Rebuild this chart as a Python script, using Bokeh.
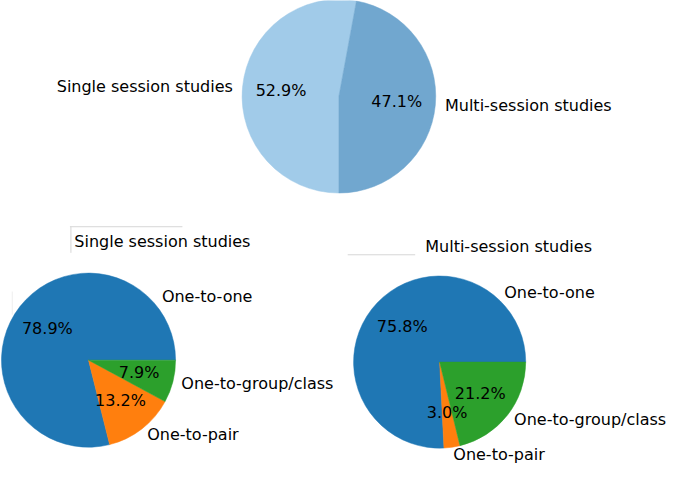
import math
from bokeh.plotting import figure
from bokeh.models import ColumnDataSource, Range1d
from bokeh.core.properties import value
from bokeh.embed import file_html
from bokeh.resources import INLINE

# ---- data ----
overview_labels = ["Single session studies", "Multi-session studies"]
overview_pct = [52.9, 47.1]
overview_colors = ["#a1cbe9", "#71a7cf"]

mode_labels = ["One-to-one", "One-to-pair", "One-to-group/class"]
single_pct = [78.9, 13.2, 7.9]
multi_pct = [75.8, 3.0, 21.2]
mode_colors = ["#1f77b4", "#ff7f0e", "#2ca02c"]

single_title = "Single session studies"
multi_title = "Multi-session studies"

FONT = "DejaVu Sans"
FS = "16px"

p = figure(width=669, height=466, output_backend="svg", toolbar_location=None,
           x_range=Range1d(3, 687), y_range=Range1d(-2, 480))
p.axis.visible = False
p.grid.visible = False
p.outline_line_color = None
p.background_fill_color = "white"
p.border_fill_color = "white"
p.min_border = 0


def pie(cx, cy, r, labels, pct, colors, start_deg, clockwise, label_override=None):
    label_override = label_override or {}
    total = sum(pct)
    a0 = math.radians(start_deg)
    sa, ea, px, py, lx, ly, la, ptxt = [], [], [], [], [], [], [], []
    cum = 0.0
    sgn = -1 if clockwise else 1
    for lab, v in zip(labels, pct):
        s = a0 + sgn * 2 * math.pi * cum / total
        cum += v
        e = a0 + sgn * 2 * math.pi * cum / total
        if clockwise:
            sa.append(e); ea.append(s)
        else:
            sa.append(s); ea.append(e)
        m = (s + e) / 2
        px.append(cx + 0.6 * r * math.cos(m))
        py.append(cy + 0.6 * r * math.sin(m))
        ptxt.append(f"{v:.1f}%")
        if lab in label_override:
            dx, dy = label_override[lab]
            lx.append(cx + dx); ly.append(cy + dy); la.append("left")
        else:
            lx.append(cx + 1.1 * r * math.cos(m))
            ly.append(cy + 1.1 * r * math.sin(m))
            la.append("left" if math.cos(m) > 0 else "right")
    src = ColumnDataSource(dict(sa=sa, ea=ea, c=colors, px=px, py=py, pt=ptxt,
                                lx=lx, ly=ly, la=la, lab=labels))
    p.wedge(x=cx, y=cy, radius=r, start_angle="sa", end_angle="ea",
            direction="anticlock", fill_color="c", line_color="c", line_width=0.5,
            source=src)
    p.text(x="px", y="py", text="pt", source=src, text_align="center",
           text_baseline="middle", text_font=value(FONT), text_font_size=FS,
           text_color="black")
    p.text(x="lx", y="ly", text="lab", source=src, text_align="la",
           text_baseline="middle", text_font=value(FONT), text_font_size=FS,
           text_color="black")


# top overview pie
pie(349, 381, 99, overview_labels, overview_pct, overview_colors, -90, True)
# bottom-left
pie(93, 108, 89, mode_labels, single_pct, mode_colors, 0, False,
    label_override={"One-to-one": (75, 66)})
# bottom-right
pie(452, 106, 88, mode_labels, multi_pct, mode_colors, 0, False,
    label_override={"One-to-one": (66, 72)})

# subplot titles
p.text(x=[168.5, 522.5], y=[231, 226], text=[single_title, multi_title],
       text_align="center", text_baseline="middle", text_font=value(FONT),
       text_font_size=FS, text_color="black")

# faint crop edges
p.segment(x0=[74, 75, 358], y0=[246, 246, 217], x1=[189, 75, 427], y1=[246, 219, 217],
          line_color="#d6d6d6", line_width=1)
p.segment(x0=[15], y0=[179], x1=[15], y1=[155], line_color="#eeeeee", line_width=1)

open("out.html", "w").write(file_html(p, INLINE))
